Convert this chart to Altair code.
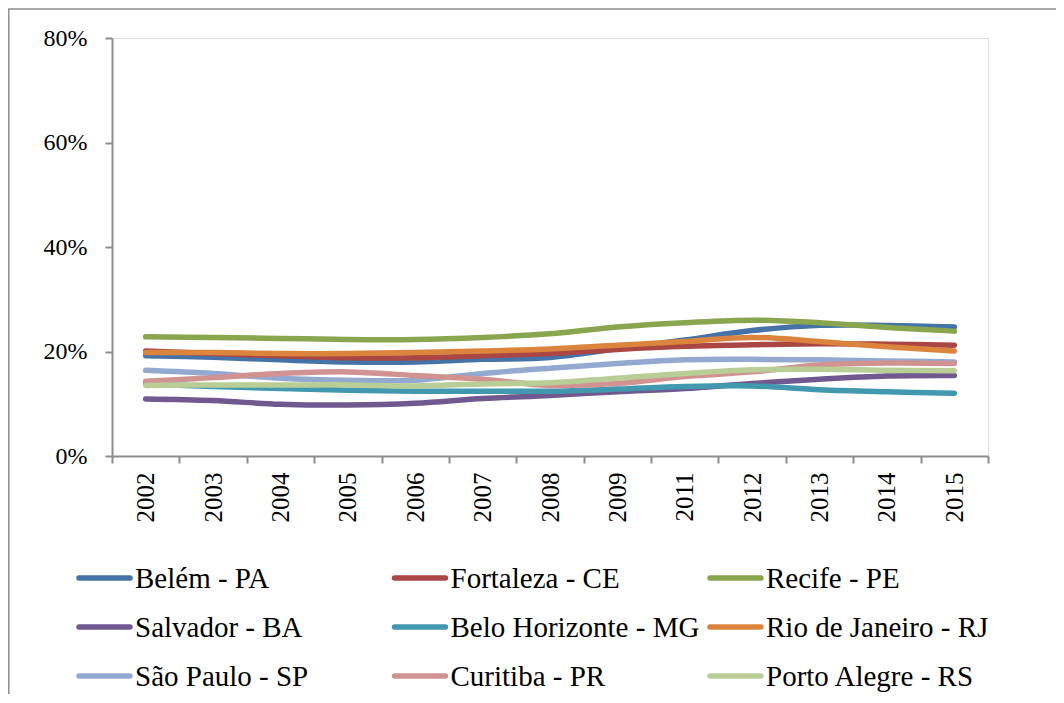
import altair as alt
import pandas as pd

years = ["2002", "2003", "2004", "2005", "2006", "2007", "2008", "2009",
         "2011", "2012", "2013", "2014", "2015"]

series_names = ["Belém - PA", "Fortaleza - CE", "Recife - PE",
                "Salvador - BA", "Belo Horizonte - MG", "Rio de Janeiro - RJ",
                "São Paulo - SP", "Curitiba - PR", "Porto Alegre - RS"]

belem = [19.2, 18.9, 18.4, 18.0, 18.0, 18.5, 18.85, 20.5, 22.2, 24.0, 25.0, 25.0, 24.7]
fortaleza = [20.1, 19.6, 19.2, 18.8, 18.8, 19.2, 19.6, 20.4, 21.0, 21.3, 21.5, 21.4, 21.2]
recife = [22.8, 22.7, 22.5, 22.3, 22.3, 22.7, 23.4, 24.7, 25.5, 26.0, 25.5, 24.6, 23.9]
salvador = [10.9, 10.6, 9.9, 9.75, 10.1, 11.0, 11.6, 12.3, 12.9, 13.9, 14.7, 15.3, 15.4]
belo_horizonte = [13.8, 13.3, 12.9, 12.6, 12.4, 12.4, 12.4, 12.8, 13.3, 13.4, 12.7, 12.3, 12.0]
rio = [19.8, 19.8, 19.6, 19.6, 19.8, 20.1, 20.5, 21.2, 21.9, 22.7, 21.9, 20.9, 20.1]
sao_paulo = [16.4, 15.8, 14.9, 14.5, 14.5, 15.8, 16.8, 17.7, 18.4, 18.5, 18.4, 18.2, 18.0]
curitiba = [14.3, 15.0, 15.8, 16.1, 15.4, 14.7, 13.5, 13.9, 15.2, 16.1, 17.4, 17.8, 17.7]
porto_alegre = [13.5, 13.6, 13.6, 13.6, 13.4, 13.8, 14.0, 14.9, 15.8, 16.5, 16.6, 16.4, 16.3]

colors = ["#4572A7", "#AA4643", "#89A54E", "#71588F", "#4198AF",
          "#DB843D", "#93A9CF", "#D19392", "#B9CD96"]

all_values = [belem, fortaleza, recife, salvador, belo_horizonte, rio,
              sao_paulo, curitiba, porto_alegre]

rows = []
for order, (name, vals) in enumerate(zip(series_names, all_values)):
    for y, v in zip(years, vals):
        rows.append({"ano": y, "valor": v, "cidade": name, "ordem": order})
df = pd.DataFrame(rows)

# legend table (3 columns x 3 rows, in series order)
legend_df = pd.DataFrame({
    "cidade": series_names,
    "col": [i % 3 for i in range(len(series_names))],
    "row": [i // 3 for i in range(len(series_names))],
})

FONT = "Liberation Serif"
GRAY = "#8c8c8c"

W, H = 876, 418

color_enc = alt.Color("cidade:N", sort=series_names,
                      scale=alt.Scale(domain=series_names, range=colors),
                      legend=None)

lines = alt.Chart(df).mark_line(
    strokeWidth=5.5, strokeCap="round", strokeJoin="round", interpolate="cardinal"
).encode(
    x=alt.X("ano:N", sort=years, bandPosition=0.5,
            scale=alt.Scale(type="band", paddingInner=0, paddingOuter=0),
            axis=alt.Axis(title=None, labelAngle=270, labelFontSize=25,
                          labelFont=FONT, labelColor="black", labelPadding=9,
                          tickBand="extent", tickSize=7, tickColor=GRAY,
                          tickWidth=2, domainColor=GRAY, domainWidth=2,
                          grid=False)),
    y=alt.Y("valor:Q", scale=alt.Scale(domain=[0, 80], nice=False),
            axis=alt.Axis(title=None, values=[0, 20, 40, 60, 80],
                          labelExpr="datum.value + '%'", labelFontSize=24,
                          labelFont=FONT, labelColor="black", labelPadding=18,
                          tickSize=7, tickColor=GRAY, tickWidth=2,
                          domainColor=GRAY, domainWidth=2, grid=False)),
    color=color_enc,
    order=alt.Order("ordem:Q"),
)

leg_x = alt.X("col:Q", axis=None, scale=alt.Scale(domain=[0, 2], range=[-36, 595]))
leg_y = alt.Y("row:Q", axis=None, scale=alt.Scale(domain=[0, 2], range=[540, 638]))

leg_sym = alt.Chart(legend_df).mark_rule(
    strokeWidth=5.5, strokeCap="round", xOffset=3, x2Offset=54
).encode(
    x=leg_x, x2="col:Q", y=leg_y, color=color_enc,
)

leg_txt = alt.Chart(legend_df).mark_text(
    align="left", baseline="middle", dx=59, dy=1, font=FONT, fontSize=29,
    color="black"
).encode(
    x=leg_x, y=leg_y, text="cidade:N",
)

legend_layer = alt.layer(leg_sym, leg_txt)

frame = alt.Chart(pd.DataFrame({"f": [0]})).mark_rect(
    fill=None, stroke=GRAY, strokeWidth=1.5
).encode(
    x=alt.value(-103.2), x2=alt.value(1000),
    y=alt.value(-29), y2=alt.value(800),
)

chart = alt.layer(frame, lines, legend_layer).resolve_scale(
    x="independent", y="independent"
).properties(
    width=W, height=H,
    autosize=alt.AutoSizeParams(type="none"),
    padding={"left": 104, "top": 30, "right": 68, "bottom": 238},
).configure_view(stroke=None).configure(background="white", font=FONT)

chart.save("out.html", embed_options={"renderer": "svg", "actions": False})
